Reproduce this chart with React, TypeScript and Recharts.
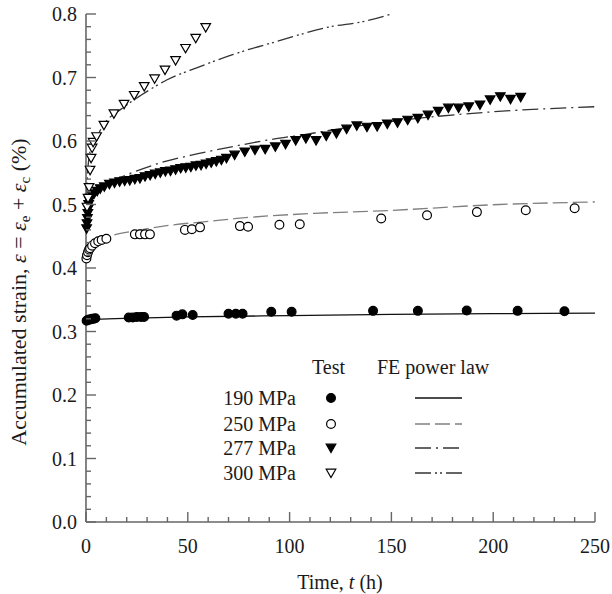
import { ComposedChart, Line, Scatter, XAxis, YAxis, Legend } from "recharts";

type Pt = { t: number; y: number };
const pts = (rows: number[][]): Pt[] => rows.map(([t, y]) => ({ t, y }));

// test data (h, %)
const test190 = pts([
    [0.3, 0.317], [0.8, 0.318], [1.5, 0.319], [2.2, 0.319], [3, 0.32], [3.8, 0.32], [4.6, 0.321],
    [21, 0.322], [23, 0.322], [25, 0.323], [27, 0.323], [28.5, 0.323],
    [44.5, 0.325], [47.3, 0.327], [52.4, 0.326],
    [70, 0.328], [73.6, 0.328], [76.9, 0.328],
    [91, 0.331], [101, 0.331],
    [141, 0.3325], [163, 0.3325], [187, 0.333], [212, 0.3325], [235, 0.332],
]);

const test250 = pts([
    [0.2, 0.415], [0.5, 0.42], [1, 0.425], [1.5, 0.429], [2, 0.431], [3, 0.435], [4.4, 0.439], [6, 0.442], [7.7, 0.444], [10, 0.446],
    [24, 0.453], [26.5, 0.453], [29, 0.453], [31.4, 0.453],
    [48.6, 0.46], [52, 0.461], [56, 0.464],
    [75.6, 0.466], [79.6, 0.465],
    [95, 0.468], [105, 0.469],
    [145, 0.478], [167.5, 0.483], [192, 0.488], [216, 0.491], [240, 0.494],
]);

const test277 = pts([
    [0.3, 0.462], [0.5, 0.47], [0.7, 0.478], [0.9, 0.486], [1.1, 0.493], [1.3, 0.5], [1.6, 0.506], [2, 0.51],
    [3, 0.514], [4, 0.517], [5.5, 0.521], [7, 0.525], [9, 0.528], [11.5, 0.532], [14, 0.534], [16.5, 0.536],
    [19, 0.537], [21.5, 0.538], [24, 0.54], [26.5, 0.541], [29, 0.544], [31.5, 0.546], [34, 0.548], [36.5, 0.55],
    [39, 0.552], [41.5, 0.553], [44, 0.555], [46.5, 0.557], [49, 0.558], [51.5, 0.559], [54, 0.561], [56.5, 0.562],
    [59, 0.564], [61.5, 0.566], [64, 0.568], [66.5, 0.57], [69, 0.573], [73, 0.578], [78, 0.583], [83, 0.586],
    [88, 0.587], [93, 0.591], [98, 0.595], [103, 0.601], [108, 0.604], [113, 0.601], [118, 0.608], [123, 0.612],
    [128, 0.619], [133, 0.624], [138, 0.622], [143, 0.623], [148, 0.627], [153, 0.629], [158, 0.633], [163, 0.636],
    [168, 0.641], [173, 0.647], [178, 0.652], [183, 0.652], [188, 0.654], [193.5, 0.657], [198.5, 0.665],
    [203.5, 0.67], [208.5, 0.666], [213.5, 0.669],
]);

const test300 = pts([
    [0.5, 0.496], [1, 0.51], [1.5, 0.527], [2, 0.554], [2.5, 0.573], [3, 0.589], [3.5, 0.598], [5.2, 0.607],
    [8.8, 0.625], [13.7, 0.643], [18.7, 0.658], [23.7, 0.672], [28.6, 0.686], [33.7, 0.698], [38.8, 0.712],
    [44, 0.727], [48.9, 0.746], [53.9, 0.762], [58.8, 0.779],
]);

// FE power law curves
const fe190 = pts([[0, 0.316], [5, 0.319], [25, 0.321], [50, 0.323], [100, 0.325], [150, 0.327], [200, 0.328], [250, 0.329]]);
const fe250 = pts([
    [0, 0.415], [1, 0.428], [3, 0.437], [6, 0.443], [13, 0.4515], [25, 0.459], [38, 0.466], [62, 0.474],
    [74, 0.478], [112, 0.486], [145, 0.49], [203, 0.5], [250, 0.504],
]);
const fe277 = pts([
    [0, 0.465], [1, 0.505], [3, 0.517], [7, 0.527], [13, 0.537], [25, 0.553], [38, 0.567], [55, 0.58],
    [75, 0.593], [92, 0.603], [105, 0.609], [130, 0.622], [170, 0.638], [200, 0.646], [250, 0.654],
]);
const fe300 = pts([
    [0, 0.5], [1, 0.56], [3, 0.595], [5, 0.605], [8.5, 0.625], [18, 0.652], [27, 0.672], [39.6, 0.696],
    [55, 0.716], [72, 0.736], [95, 0.758], [120, 0.78], [136, 0.788], [150, 0.8],
]);

const xTicks = [0, 10, 20, 30, 40, 50, 60, 70, 80, 90, 100, 110, 120, 130, 140, 150, 160, 170, 180, 190, 200, 210, 220, 230, 240, 250];
const yTicks = [
    0, 0.02, 0.04, 0.06, 0.08, 0.1, 0.12, 0.14, 0.16, 0.18, 0.2, 0.22, 0.24, 0.26, 0.28, 0.3, 0.32, 0.34, 0.36, 0.38, 0.4,
    0.42, 0.44, 0.46, 0.48, 0.5, 0.52, 0.54, 0.56, 0.58, 0.6, 0.62, 0.64, 0.66, 0.68, 0.7, 0.72, 0.74, 0.76, 0.78, 0.8,
];

const stressLabels = ["190 MPa", "250 MPa", "277 MPa", "300 MPa"];

const FONT = "Liberation Serif";
const FRAME = "#666";
const TXT = "#1a1a1a";
const MAJOR = 10;
const MINOR = 5;

const isMajorX = (v: number) => Math.round(v) % 50 === 0;
const isMajorY = (v: number) => Math.round(v * 100) % 10 === 0;

const BottomTick = ({ x, y, payload }: any) => {
    const major = isMajorX(payload.value);
    return (
        <g>
            <line x1={x} x2={x} y1={y} y2={y - (major ? MAJOR : MINOR)} stroke={FRAME} strokeWidth={1.4} />
            {major && (
                <text x={x} y={y + 31} textAnchor="middle" fontFamily={FONT} fontSize={20} fill={TXT}>
                    {payload.value}
                </text>
            )}
        </g>
    );
};

const TopTick = ({ x, y, payload }: any) => {
    const major = isMajorX(payload.value);
    return <line x1={x} x2={x} y1={y} y2={y + (major ? MAJOR : MINOR)} stroke={FRAME} strokeWidth={1.4} />;
};

const LeftTick = ({ x, y, payload }: any) => {
    const major = isMajorY(payload.value);
    return (
        <g>
            <line x1={x} x2={x + (major ? MAJOR : MINOR)} y1={y} y2={y} stroke={FRAME} strokeWidth={1.4} />
            {major && (
                <text x={x - 9} y={y + 7} textAnchor="end" fontFamily={FONT} fontSize={20} fill={TXT}>
                    {payload.value.toFixed(1)}
                </text>
            )}
        </g>
    );
};

const RightTick = ({ x, y, payload }: any) => {
    const major = isMajorY(payload.value);
    return <line x1={x} x2={x - (major ? MAJOR : MINOR)} y1={y} y2={y} stroke={FRAME} strokeWidth={1.4} />;
};

const dot = (filled: boolean) => (p: any) => (
    <circle cx={p.cx} cy={p.cy} r={4.4} fill={filled ? "#000" : "#fff"} stroke="#000" strokeWidth={1.2} />
);
const downTri = (filled: boolean) => (p: any) => (
    <polygon
        points={`${p.cx - 4.8},${p.cy - 3.8} ${p.cx + 4.8},${p.cy - 3.8} ${p.cx},${p.cy + 4.6}`}
        fill={filled ? "#000" : "#fff"}
        stroke="#000"
        strokeWidth={1.2}
    />
);

const markers = [dot(true), dot(false), downTri(true), downTri(false)];
const lineStyles = [
    { stroke: "#111", dash: undefined as string | undefined },
    { stroke: "#808080", dash: "15 5" },
    { stroke: "#333", dash: "16 5 2 5" },
    { stroke: "#333", dash: "16 4 2 3 2 4" },
];

const LegendBox = () => (
    <svg width={612} height={594} style={{ position: "absolute", left: 0, top: 0 }}>
        <g fontFamily={FONT} fontSize={20} fill={TXT}>
            <text x={312} y={374}>Test</text>
            <text x={377} y={374}>FE power law</text>
            {stressLabels.map((s, i) => {
                const cy = [398, 424, 448, 473][i];
                return (
                    <g key={s}>
                        <text x={296} y={cy + 7} textAnchor="end">{s}</text>
                        {markers[i]({ cx: 331, cy })}
                        <line x1={415} x2={462} y1={cy} y2={cy} stroke={lineStyles[i].stroke} strokeWidth={1.5} strokeDasharray={lineStyles[i].dash} />
                    </g>
                );
            })}
        </g>
    </svg>
);

const YLabel = () => (
    <text transform="translate(26,292) rotate(-90)" textAnchor="middle" fontFamily={FONT} fontSize={22} fill={TXT}>
        Accumulated strain, <tspan fontStyle="italic">ε</tspan> = <tspan fontStyle="italic">ε</tspan>
        <tspan fontSize={15} dy={4}>e</tspan>
        <tspan dy={-4}> + </tspan>
        <tspan fontStyle="italic">ε</tspan>
        <tspan fontSize={15} dy={4}>c</tspan>
        <tspan dy={-4}> (%)</tspan>
    </text>
);

const XLabel = () => (
    <text x={340} y={589} textAnchor="middle" fontFamily={FONT} fontSize={20} fill={TXT}>
        Time, <tspan fontStyle="italic">t</tspan> (h)
    </text>
);

export default function App() {
    const tests = [test190, test250, test277, test300];
    const fes = [fe190, fe250, fe277, fe300];
    return (
        <div style={{ position: "absolute", left: 0, top: 0, width: 612, height: 594, background: "#fff" }}>
            <ComposedChart width={612} height={594} margin={{ top: 14, right: 17, left: 26, bottom: 32 }}>
                <XAxis
                    dataKey="t"
                    type="number"
                    domain={[0, 250]}
                    ticks={xTicks}
                    interval={0}
                    tickSize={0}
                    tickMargin={0}
                    tickLine={false}
                    tick={<BottomTick />}
                    axisLine={{ stroke: FRAME, strokeWidth: 1.6 }}
                    height={40}
                    label={<XLabel />}
                />
                <XAxis
                    xAxisId="top"
                    orientation="top"
                    dataKey="t"
                    type="number"
                    domain={[0, 250]}
                    ticks={xTicks}
                    interval={0}
                    tickSize={0}
                    tickMargin={0}
                    tickLine={false}
                    tick={<TopTick />}
                    axisLine={{ stroke: FRAME, strokeWidth: 1.6 }}
                    height={0}
                />
                <YAxis
                    dataKey="y"
                    type="number"
                    domain={[0, 0.8]}
                    ticks={yTicks}
                    interval={0}
                    tickSize={0}
                    tickMargin={0}
                    tickLine={false}
                    tick={<LeftTick />}
                    axisLine={{ stroke: FRAME, strokeWidth: 1.6 }}
                    width={60}
                    allowDataOverflow
                    label={<YLabel />}
                />
                <YAxis
                    yAxisId="right"
                    orientation="right"
                    dataKey="y"
                    type="number"
                    domain={[0, 0.8]}
                    ticks={yTicks}
                    interval={0}
                    tickSize={0}
                    tickMargin={0}
                    tickLine={false}
                    tick={<RightTick />}
                    axisLine={{ stroke: FRAME, strokeWidth: 1.6 }}
                    width={0}
                />
                {fes.map((d, i) => (
                    <Line
                        key={`fe${i}`}
                        data={d}
                        dataKey="y"
                        type="monotone"
                        dot={false}
                        stroke={lineStyles[i].stroke}
                        strokeWidth={1.3}
                        strokeDasharray={lineStyles[i].dash}
                        isAnimationActive={false}
                    />
                ))}
                {tests.map((d, i) => (
                    <Scatter key={`test${i}`} data={d} dataKey="y" shape={markers[i]} isAnimationActive={false} />
                ))}
                <Legend content={<LegendBox />} wrapperStyle={{ left: 0, top: 0, width: 612, height: 594 }} layout="vertical" align="center" verticalAlign="middle" />
            </ComposedChart>
        </div>
    );
}
